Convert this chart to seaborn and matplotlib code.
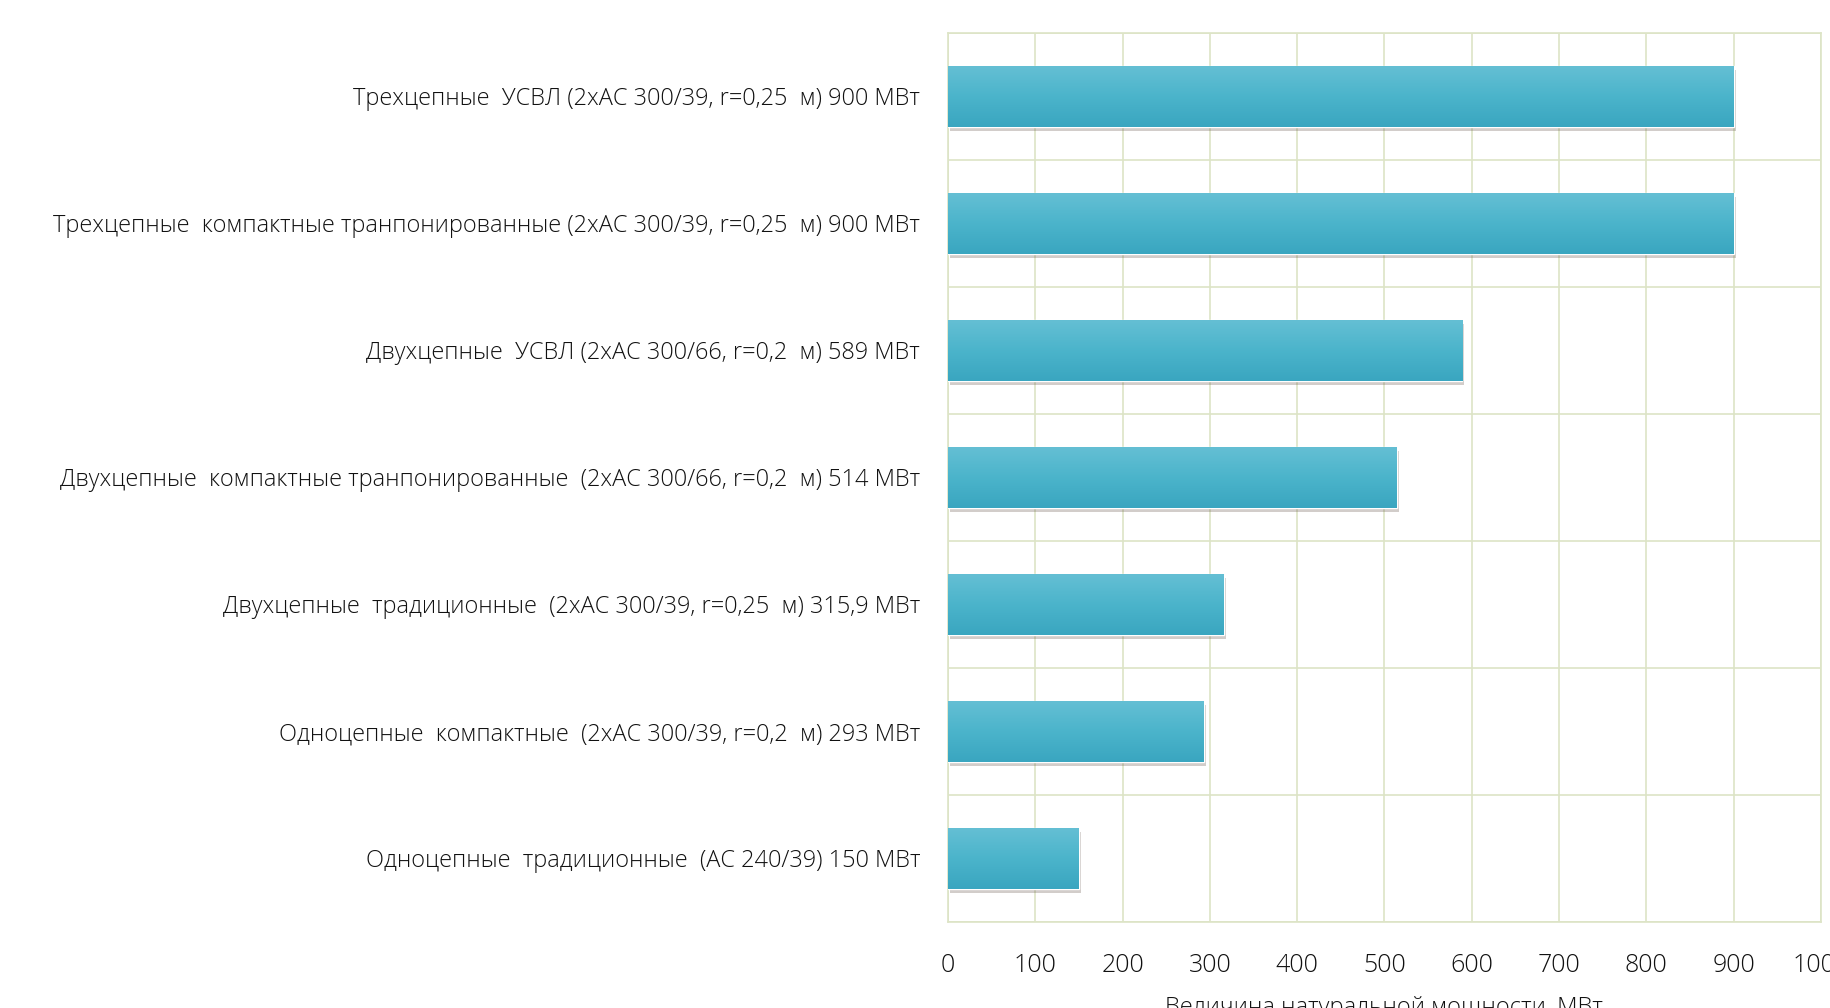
import numpy as np
import pandas as pd
import matplotlib
matplotlib.use("Agg")
import matplotlib.pyplot as plt
import matplotlib.patheffects as pe
from matplotlib.colors import LinearSegmentedColormap
import seaborn as sns

# Line types and their natural power, MW
categories = [
    "Трехцепные  УСВЛ (2хАС 300/39, r=0,25  м) 900 МВт",
    "Трехцепные  компактные транпонированные (2хАС 300/39, r=0,25  м) 900 МВт",
    "Двухцепные  УСВЛ (2хАС 300/66, r=0,2  м) 589 МВт",
    "Двухцепные  компактные транпонированные  (2хАС 300/66, r=0,2  м) 514 МВт",
    "Двухцепные  традиционные  (2хАС 300/39, r=0,25  м) 315,9 МВт",
    "Одноцепные  компактные  (2хАС 300/39, r=0,2  м) 293 МВт",
    "Одноцепные  традиционные  (АС 240/39) 150 МВт",
]
values = [900, 900, 589, 514, 315.9, 293, 150]
x_ticks = [0, 100, 200, 300, 400, 500, 600, 700, 800, 900, 1000]
x_label = "Величина натуральной мощности, МВт"

sns.set_theme(style="white")
plt.rcParams["font.family"] = ["Open Sans", "DejaVu Sans"]

df = pd.DataFrame({"category": categories, "value": values})

fig = plt.figure(figsize=(18.3, 10.08), dpi=100)
ax = fig.add_axes([0.518, 0.0853, 0.477, 0.8822])

bar_color = "#4ab3cb"
sns.barplot(data=df, y="category", x="value", color=bar_color, width=0.48,
            saturation=1, ax=ax, zorder=3)

ax.set_xlim(0, 1000)
ax.set_ylim(len(categories) - 0.5, -0.5)
ax.set_xticks(x_ticks)
ax.set_xticklabels([str(t) for t in x_ticks])

# Grid: vertical lines at ticks, horizontal lines between categories
grid_color = "#dde4c6"
ax.set_axisbelow(True)
ax.xaxis.grid(True, color=grid_color, linewidth=1.2)
for yb in np.arange(-0.5, len(categories) + 0.5, 1.0):
    ax.axhline(yb, color=grid_color, linewidth=1.2, zorder=1)
for s in ax.spines.values():
    s.set_color(grid_color)
    s.set_linewidth(1.2)

# Vertical shading on the bars with a soft drop shadow
cmap = LinearSegmentedColormap.from_list("bar", ["#64bfd4", "#4bb4cb", "#3aa6c0"])
grad = np.linspace(0, 1, 64).reshape(-1, 1)
for p in ax.patches:
    p.set_path_effects([pe.SimplePatchShadow(offset=(1.5, -3), shadow_rgbFace="#6a5a50",
                                             alpha=0.3), pe.Normal()])
    x0, y0 = p.get_x(), p.get_y()
    w, h = p.get_width(), p.get_height()
    im = ax.imshow(grad, cmap=cmap, aspect="auto", extent=(x0, x0 + w, y0 + h, y0),
                   zorder=4, interpolation="bicubic")
    im.set_clip_path(p)
ax.set_xlim(0, 1000)
ax.set_ylim(len(categories) - 0.5, -0.5)

ax.tick_params(axis="y", length=0, pad=20, labelsize=16.9, labelcolor="#111111")
ax.tick_params(axis="x", length=0, pad=22, labelsize=18, labelcolor="#111111")
for lab in ax.get_yticklabels() + ax.get_xticklabels():
    lab.set_fontweight("light")
ax.set_ylabel("")
ax.set_xlabel(x_label, fontsize=17, color="#111111", labelpad=13, fontweight="light")

fig.savefig("out.png", dpi=100, facecolor="white")
